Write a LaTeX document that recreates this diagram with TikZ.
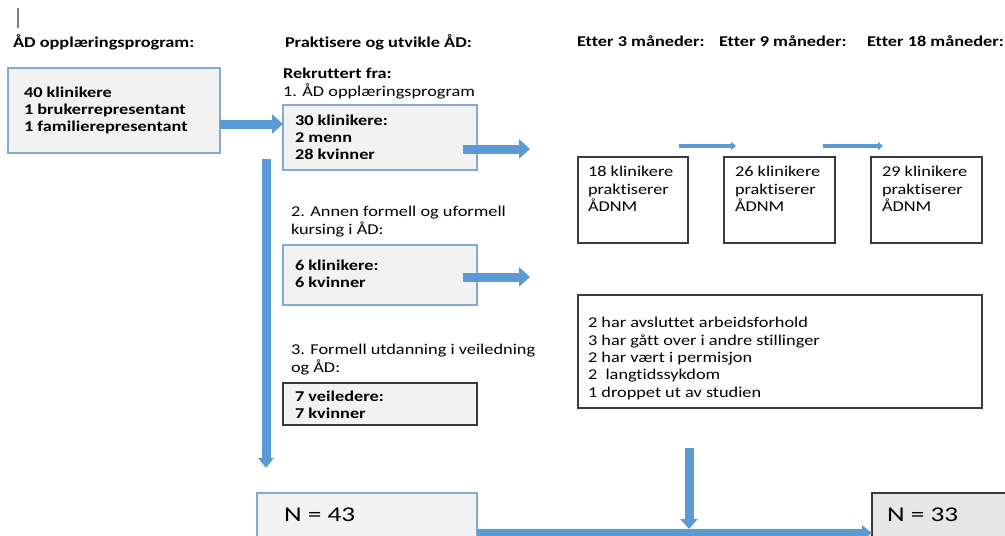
\documentclass[tikz,border=0pt]{standalone}
\usepackage{fontspec}
\setmainfont{Carlito}[FakeStretch=1.22, Ligatures=NoCommon]
\newfontfamily\bigfont{Carlito}[FakeStretch=1.3]
\usetikzlibrary{arrows.meta}
\definecolor{arrowblue}{HTML}{5B9BD5}
\definecolor{boxblue}{HTML}{85A8D8}
\definecolor{boxfill}{HTML}{F2F2F2}
\definecolor{darkfill}{HTML}{E6E6E6}
\definecolor{darkline}{HTML}{3A3A3A}
\begin{document}
\begin{tikzpicture}[x=1pt,y=-1pt,
  every node/.style={inner sep=0pt, outer sep=0pt},
  txt/.style={anchor=north west, align=left, font=\fontsize{15}{17.3}\selectfont, execute at begin node=\strut},
  btxt/.style={txt, font=\fontsize{15}{17.3}\selectfont\bfseries},
  bigtxt/.style={anchor=base west, font=\bigfont\fontsize{21}{24}\selectfont},
  bluebox/.style={draw=boxblue, fill=boxfill, line width=1.3pt, anchor=north west},
  greybox/.style={draw=darkline, fill=boxfill, line width=1.3pt, anchor=north west},
  whitebox/.style={draw=darkline, fill=white, line width=1.1pt, anchor=north west},
  nbox/.style={draw=darkline, fill=darkfill, line width=1.1pt, anchor=north west},
  bigarrow/.style={draw=arrowblue, line width=9pt, -{Triangle[width=19pt,length=11pt]}},
  smallarrow/.style={draw=arrowblue, line width=4pt, -{Triangle[width=8pt,length=5pt]}}
]
\useasboundingbox (0,0) rectangle (1005,536);
% tiny mark
\draw[gray, line width=1.5pt] (18,8) -- (18,28);
% headers
\node[btxt] (h1) at (13,34.5) {ÅD opplæringsprogram:};
\node[btxt] (h2) at (285,34.5) {Praktisere og utvikle ÅD:};
\node[btxt] (h3) at (577,34.5) {Etter 3 måneder:};
\node[btxt] (h4) at (719,34.5) {Etter 9 måneder:};
\node[btxt] (h5) at (867,34.5) {Etter 18 måneder:};
% boxes
\node[bluebox, minimum width=212pt, minimum height=85pt] (b1) at (8,68) {};
\node[bluebox, minimum width=194pt, minimum height=65pt] (b2) at (283,105) {};
\node[bluebox, minimum width=194pt, minimum height=60pt] (b3) at (283,245) {};
\node[greybox, minimum width=194pt, minimum height=42pt] (b4) at (283,383) {};
\node[whitebox, minimum width=110pt, minimum height=86pt] (b5) at (578,157) {};
\node[whitebox, minimum width=111pt, minimum height=86pt] (b6) at (724,157) {};
\node[whitebox, minimum width=111pt, minimum height=86pt] (b7) at (871,157) {};
\node[whitebox, minimum width=404pt, minimum height=113pt] (b8) at (578,295) {};
\node[bluebox, minimum width=220pt, minimum height=50pt] (n43) at (257,493) {};
\node[nbox, minimum width=140pt, minimum height=50pt] (n33) at (872,493) {};
% texts
\node[btxt] (t1) at (24,86.5) {40 klinikere\\1 brukerrepresentant\\1 familierepresentant};
\node[btxt] (r1) at (283,66.5) {Rekruttert fra:};
\node[txt] (r2) at (283,83.5) {1. ÅD opplæringsprogram};
\node[btxt] (t2) at (295,114.5) {30 klinikere:\\2 menn\\28 kvinner};
\node[txt] (r3) at (291,206.5) {2. Annen formell og uformell\\kursing i ÅD:};
\node[btxt] (t3) at (295,259.5) {6 klinikere:\\6 kvinner};
\node[txt] (r4) at (291,344.5) {3. Formell utdanning i veiledning\\og ÅD:};
\node[btxt] (t4) at (295,390.5) {7 veiledere:\\7 kvinner};
\node[txt] (t5) at (588,166.5) {18 klinikere\\praktiserer\\ÅDNM};
\node[txt] (t6) at (735,166.5) {26 klinikere\\praktiserer\\ÅDNM};
\node[txt] (t7) at (882,166.5) {29 klinikere\\praktiserer\\ÅDNM};
\node[txt] (t8) at (588,317.5) {2 har avsluttet arbeidsforhold\\3 har gått over i andre stillinger\\2 har vært i permisjon\\2\ \ langtidssykdom\\1 droppet ut av studien};
\node[bigtxt] (tn43) at (284,521) {N = 43};
\node[bigtxt] (tn33) at (887,521) {N = 33};
% arrow coordinates
\coordinate (a2s) at (463,149);
\coordinate (a2e) at (530,149);
\coordinate (a3s) at (463,277);
\coordinate (a3e) at (530,277);
\coordinate (vs) at (266,159);
\coordinate (ve) at (266,468);
\coordinate (s1s) at (679,146);
\coordinate (s1e) at (736,146);
\coordinate (s2s) at (823,146);
\coordinate (s2e) at (883,146);
\coordinate (ds) at (689,448);
% arrows
\draw[bigarrow] (b1.east |- 0,124) -- (b2.west |- 0,124);
\draw[bigarrow] (a2s) -- (a2e);
\draw[bigarrow] (a3s) -- (a3e);
\draw[bigarrow, -{Triangle[width=15pt,length=10pt]}] (vs) -- (ve);
\draw[smallarrow] (s1s) -- (s1e);
\draw[smallarrow] (s2s) -- (s2e);
\draw[bigarrow, line width=8pt, -{Triangle[width=15pt,length=10pt]}] (n43.east |- 0,533) -- (n33.west |- 0,533);
\draw[bigarrow, -{Triangle[width=17pt,length=10pt]}] (ds) -- (ds |- 0,529);
\end{tikzpicture}
\end{document}
